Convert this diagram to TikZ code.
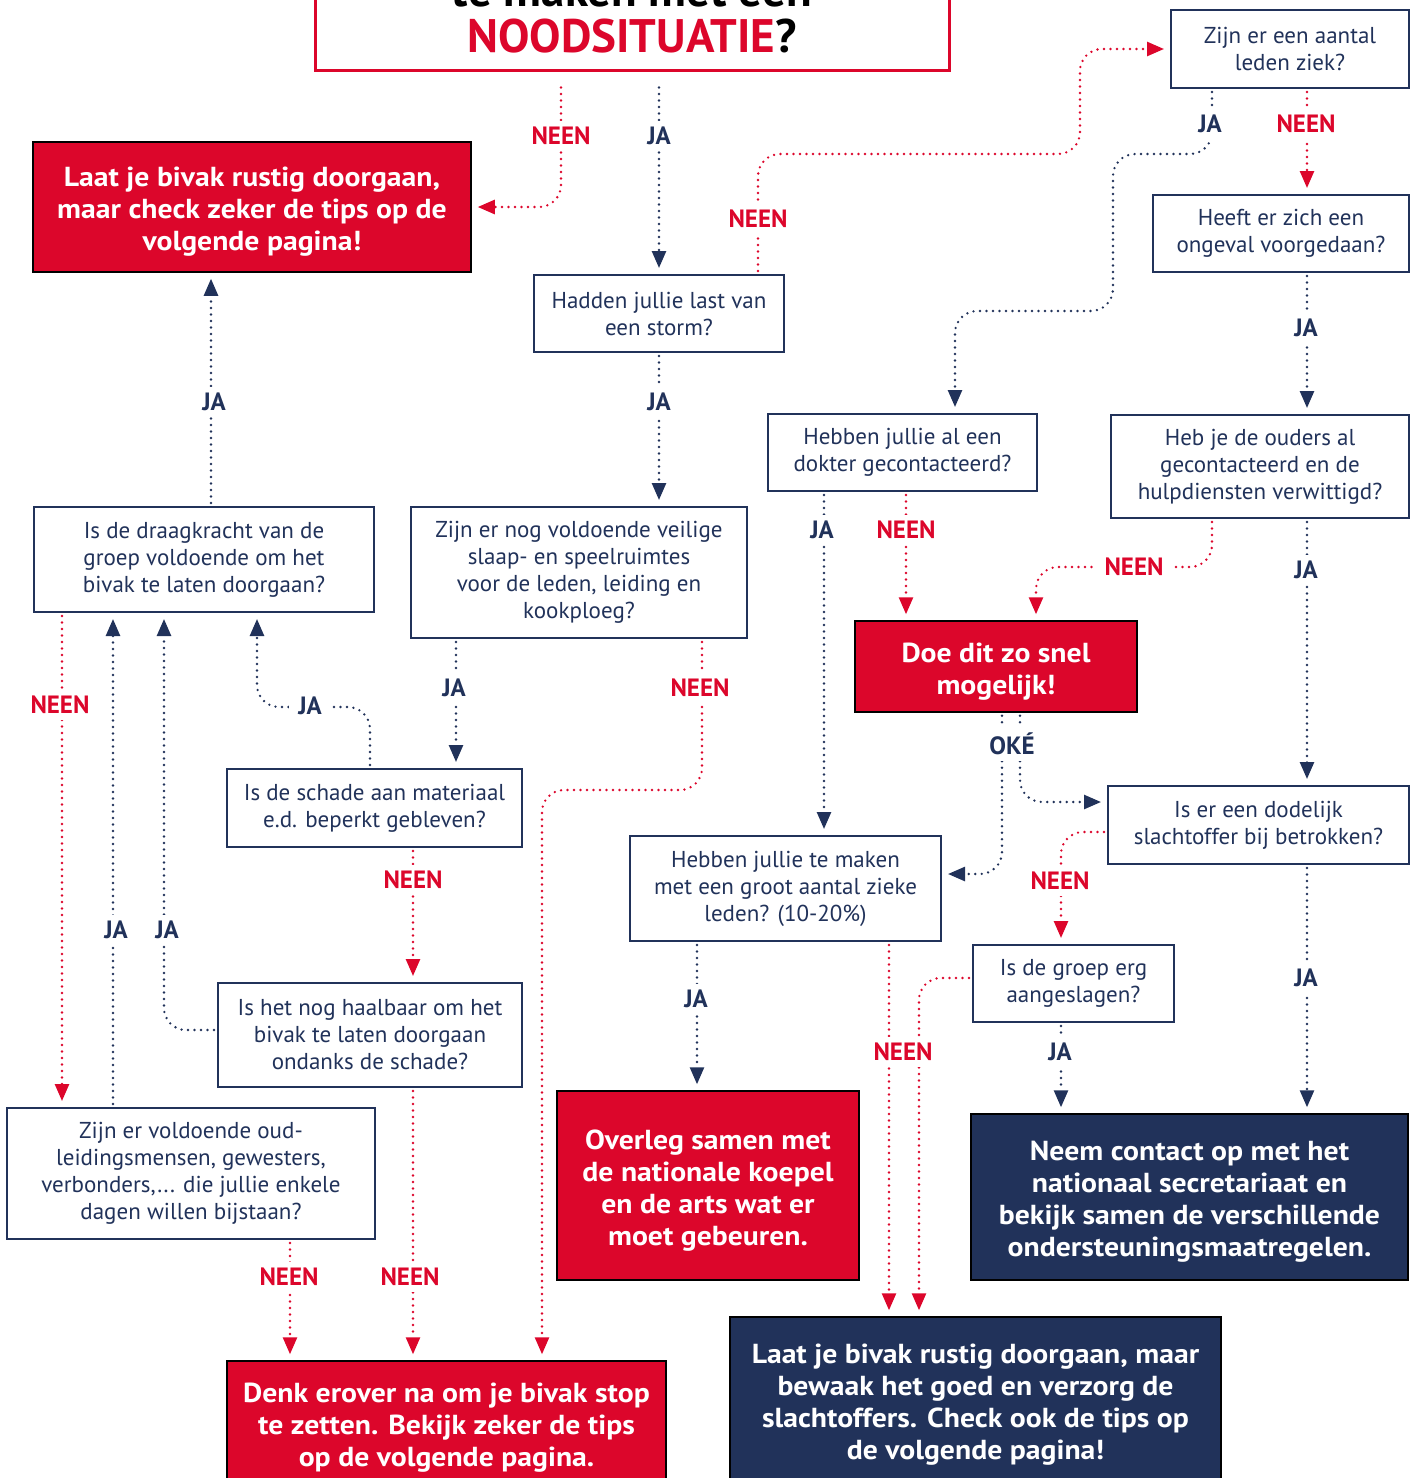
\documentclass[tikz,border=0pt]{standalone}
\usepackage{fontspec}
\setmainfont{PT Sans}
\newfontfamily\widefont[FakeStretch=1.08]{PT Sans}
\usetikzlibrary{arrows.meta}
\definecolor{rd}{HTML}{DC062B}
\definecolor{nv}{HTML}{21325A}
\tikzset{
 qbox/.style={draw=nv, line width=2pt, fill=white, text=nv, align=center, inner sep=0pt, font=\fontsize{23}{27}\selectfont},
 redbox/.style={draw=black, line width=1.5pt, fill=rd, inner sep=0pt},
 navybox/.style={redbox, fill=nv},
 bigtxt/.style={text=white, align=center, inner sep=0pt, font=\widefont\bfseries\fontsize{27.5}{32}\selectfont},
 titlebox/.style={draw=rd, line width=3pt, fill=white, inner sep=0pt},
 titletext/.style={anchor=base, inner sep=0pt, font=\bfseries\fontsize{47}{47}\selectfont},
 lab/.style={fill=white, inner xsep=9pt, inner ysep=6pt, font=\bfseries\fontsize{25}{25}\selectfont},
 rlab/.style={lab, text=rd},
 nlab/.style={lab, text=nv},
 conn/.style={line width=2.6pt, dash pattern=on 0pt off 6.5pt, line cap=round, rounded corners=22pt, shorten <=3pt},
 rarr/.style={conn, draw=rd, -{Triangle[width=14pt,length=17pt]}, shorten >=6pt},
 narr/.style={conn, draw=nv, -{Triangle[width=14pt,length=17pt]}, shorten >=6pt},
}
\begin{document}
\begin{tikzpicture}[x=1pt,y=-1pt]
\useasboundingbox (0,0) rectangle (1415,1478);
\clip (0,0) rectangle (1415,1478);
% title
\node[titlebox, minimum width=634pt, minimum height=85pt] (title) at (632,27.5) {};
\node[titletext] (t1) at (632,6) {te maken met een};
\node[titletext] (t2) at (632,52) {\textcolor{rd}{NOODSITUATIE}?};
% outcome boxes
\node[redbox, minimum width=438pt, minimum height=130pt] (r1) at (252,207) {};
\node[bigtxt] (r1t) at ([yshift=-5pt]r1.center) {Laat je bivak rustig doorgaan,\\ maar check zeker de tips op de\\ volgende pagina!};
\node[redbox, minimum width=282pt, minimum height=91pt] (doe) at (996,666.5) {};
\node[bigtxt] (doet) at ([yshift=-5pt]doe.center) {Doe dit zo snel\\ mogelijk!};
\node[redbox, minimum width=302pt, minimum height=189pt] (overleg) at (708,1185.5) {};
\node[bigtxt] (overlegt) at ([yshift=-5pt]overleg.center) {Overleg samen met\\ de nationale koepel\\ en de arts wat er\\ moet gebeuren.};
\node[navybox, minimum width=437pt, minimum height=166pt] (neem) at (1189.5,1197) {};
\node[bigtxt] (neemt) at ([yshift=-5pt]neem.center) {Neem contact op met het\\ nationaal secretariaat en\\ bekijk samen de verschillende\\ ondersteuningsmaatregelen.};
\node[redbox, minimum width=439pt, minimum height=123pt] (denk) at (446.5,1422.5) {};
\node[bigtxt] (denkt) at ([yshift=-5pt]denk.center) {Denk erover na om je bivak stop\\ te zetten. Bekijk zeker de tips\\ op de volgende pagina.};
\node[navybox, minimum width=491pt, minimum height=165pt] (navy2) at (975.5,1399.5) {};
\node[bigtxt] (navy2t) at ([yshift=-5pt]navy2.center) {Laat je bivak rustig doorgaan, maar\\ bewaak het goed en verzorg de\\ slachtoffers. Check ook de tips op\\ de volgende pagina!};
% question boxes
\node[qbox, minimum width=250pt, minimum height=77pt] (hadden) at (659,313.5) {Hadden jullie last van\\ een storm?};
\node[qbox, minimum width=238pt, minimum height=78pt] (ziek) at (1290,49) {Zijn er een aantal\\ leden ziek?};
\node[qbox, minimum width=256pt, minimum height=77pt] (ongeval) at (1281,233.5) {Heeft er zich een\\ ongeval voorgedaan?};
\node[qbox, minimum width=269pt, minimum height=77pt] (dokter) at (902.5,452.5) {Hebben jullie al een\\ dokter gecontacteerd?};
\node[qbox, minimum width=298pt, minimum height=103pt] (ouders) at (1260,466.5) {Heb je de ouders al\\ gecontacteerd en de\\ hulpdiensten verwittigd?};
\node[qbox, minimum width=340pt, minimum height=105pt] (draag) at (204,559.5) {Is de draagkracht van de\\ groep voldoende om het\\ bivak te laten doorgaan?};
\node[qbox, minimum width=336pt, minimum height=131pt] (voldoende) at (579,572.5) {Zijn er nog voldoende veilige\\ slaap- en speelruimtes\\ voor de leden, leiding en\\ kookploeg?};
\node[qbox, minimum width=295pt, minimum height=78pt] (schade) at (374.5,808) {Is de schade aan materiaal\\ e.d. beperkt gebleven?};
\node[qbox, minimum width=301pt, minimum height=78pt] (dodelijk) at (1258.5,825) {Is er een dodelijk\\ slachtoffer bij betrokken?};
\node[qbox, minimum width=311pt, minimum height=105pt] (groot) at (785.5,888.5) {Hebben jullie te maken\\ met een groot aantal zieke\\ leden? (10-20\%)};
\node[qbox, minimum width=201pt, minimum height=77pt] (groep) at (1073.5,983.5) {Is de groep erg\\ aangeslagen?};
\node[qbox, minimum width=304pt, minimum height=104pt] (haal) at (370,1035) {Is het nog haalbaar om het\\ bivak te laten doorgaan\\ ondanks de schade?};
\node[qbox, minimum width=368pt, minimum height=131pt] (oud) at (191,1173.5) {Zijn er voldoende oud-\\ leidingsmensen, gewesters,\\ verbonders,... die jullie enkele\\ dagen willen bijstaan?};
% connectors
\draw[rarr, shorten <=16pt] (title.south -| 561,0) |- (r1.east);
\draw[narr, shorten <=16pt] (title.south -| 659,0) -- (hadden.north);
\draw[rarr] (hadden.north -| 758,0) |- (1080,154) |- (ziek.west);
\draw[narr] (hadden.south) -- (voldoende.north -| 659,0);
\draw[narr] (ziek.south -| 1212,0) |- (1113,154) |- (955,311) -- (dokter.north -| 955,0);
\draw[rarr] (ziek.south -| 1307,0) -- (ongeval.north -| 1307,0);
\draw[narr] (ongeval.south -| 1307,0) -- (ouders.north -| 1307,0);
\draw[narr] (dokter.south -| 824,0) -- (groot.north -| 824,0);
\draw[rarr] (dokter.south -| 906,0) -- (doe.north -| 906,0);
\draw[rarr] (ouders.south -| 1212,0) |- (1036,567) -- (doe.north -| 1036,0);
\draw[narr] (ouders.south -| 1307,0) -- (dodelijk.north -| 1307,0);
\draw[narr] (doe.south -| 1002,0) |- (groot.east |- 0,874);
\draw[narr] (doe.south -| 1020,0) |- (dodelijk.west |- 0,802);
\draw[rarr] (dodelijk.west |- 0,832) -| (groep.north -| 1061,0);
\draw[narr] (dodelijk.south -| 1307,0) -- (neem.north -| 1307,0);
\draw[narr] (groot.south -| 697,0) -- (overleg.north -| 697,0);
\draw[rarr] (groot.south -| 889,0) -- (navy2.north -| 889,0);
\draw[rarr] (groep.west |- 0,978) -| (navy2.north -| 919,0);
\draw[narr] (groep.south -| 1061,0) -- (neem.north -| 1061,0);
\draw[narr] (voldoende.south -| 456,0) -- (schade.north -| 456,0);
\draw[rarr] (voldoende.south -| 702,0) |- (542,790) -- (denk.north -| 542,0);
\draw[narr] (schade.north -| 370,0) |- (257,707) -- (draag.south -| 257,0);
\draw[rarr] (schade.south -| 413,0) -- (haal.north -| 413,0);
\draw[narr] (haal.west |- 0,1030) -| (draag.south -| 164,0);
\draw[rarr] (haal.south -| 413,0) -- (denk.north -| 413,0);
\draw[narr] (oud.north -| 113,0) -- (draag.south -| 113,0);
\draw[rarr] (draag.south -| 62,0) -- (oud.north -| 62,0);
\draw[rarr] (oud.south -| 290,0) -- (denk.north -| 290,0);
\draw[narr] (draag.north -| 211,0) -- (r1.south -| 211,0);
% labels
\node[rlab] (la) at (561,136) {NEEN};
\node[nlab] (lb) at (659,136) {JA};
\node[rlab] (lc) at (758,219) {NEEN};
\node[nlab] (ld) at (659,402) {JA};
\node[nlab] (le) at (1210,124) {JA};
\node[rlab] (lf) at (1306,124) {NEEN};
\node[nlab] (lg) at (1306,328) {JA};
\node[nlab] (lh) at (822,530) {JA};
\node[rlab] (li) at (906,530) {NEEN};
\node[rlab] (lj) at (1134,567) {NEEN};
\node[nlab] (lk) at (1306,570) {JA};
\node[nlab] (ll) at (1012,744) {OKÉ};
\node[rlab] (ln) at (1060,881) {NEEN};
\node[nlab] (lo) at (1306,978) {JA};
\node[nlab] (lp) at (696,999) {JA};
\node[rlab] (lq) at (903,1052) {NEEN};
\node[nlab] (ls) at (1060,1052) {JA};
\node[nlab] (lt) at (454,688) {JA};
\node[rlab] (lu) at (700,688) {NEEN};
\node[nlab] (lv) at (310,706) {JA};
\node[rlab] (lw) at (413,880) {NEEN};
\node[nlab] (lx) at (167,930) {JA};
\node[rlab] (ly) at (410,1277) {NEEN};
\node[nlab] (lz) at (116,930) {JA};
\node[rlab] (laa) at (60,705) {NEEN};
\node[rlab] (lbb) at (289,1277) {NEEN};
\node[nlab] (lcc) at (214,402) {JA};
\end{tikzpicture}
\end{document}
